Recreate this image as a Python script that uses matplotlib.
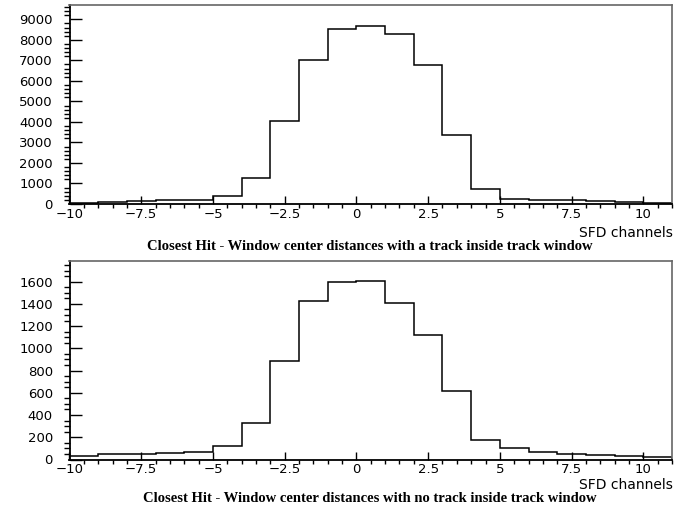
import numpy as np
import matplotlib
matplotlib.use("Agg")
import matplotlib.pyplot as plt
from matplotlib.ticker import MultipleLocator, FuncFormatter

# bin edges in SFD channels (1 channel per bin)
bin_edges = [-10, -9, -8, -7, -6, -5, -4, -3, -2, -1, 0,
             1, 2, 3, 4, 5, 6, 7, 8, 9, 10, 11]

# closest hit distances, events with a track inside the track window
with_track = [60, 96, 130, 178, 210, 390, 1250, 4050, 7040, 8530, 8690,
              8270, 6790, 3340, 730, 256, 207, 175, 125, 93, 60]

# closest hit distances, events with no track inside the track window
no_track = [28, 45, 45, 60, 66, 123, 330, 882, 1425, 1597, 1606,
            1410, 1122, 618, 177, 105, 67, 49, 37, 34, 25]

titles = ["Closest Hit - Window center distances with a track inside track window",
          "Closest Hit - Window center distances with no track inside track window"]
x_title = "SFD channels"

W, H = 674, 508


def fmt_x(v, pos):
    s = "%g" % v
    return s.replace("-", "\u2212")


def draw_hist(ax, counts, ymax, ymajor, yminor, title, y_xtitle, y_title, xpad):
    ax.stairs(counts, bin_edges, color="black", linewidth=1.1)
    ax.set_xlim(-10, 11)
    ax.set_ylim(0, ymax)

    ax.xaxis.set_major_locator(MultipleLocator(2.5))
    ax.xaxis.set_minor_locator(MultipleLocator(0.5))
    ax.xaxis.set_major_formatter(FuncFormatter(fmt_x))
    ax.yaxis.set_major_locator(MultipleLocator(ymajor))
    ax.yaxis.set_minor_locator(MultipleLocator(yminor))

    ax.tick_params(axis="both", direction="in", labelsize=9.5, color="black",
                   top=False, right=False)
    ax.tick_params(axis="x", which="major", length=5.5, width=1, pad=xpad)
    ax.tick_params(axis="x", which="minor", length=3, width=1)
    ax.tick_params(axis="y", which="major", length=8.5, width=1, pad=12)
    ax.tick_params(axis="y", which="minor", length=4.5, width=1)

    for side in ["left", "bottom"]:
        ax.spines[side].set_color("black")
        ax.spines[side].set_linewidth(1.3)
    for side in ["top", "right"]:
        ax.spines[side].set_color("#666666")
        ax.spines[side].set_linewidth(1.2)

    fig.text(673 / W, 1 - y_xtitle / H, x_title, ha="right", va="center",
             fontsize=10)
    fig.text(370 / W, 1 - y_title / H, title, ha="center", va="center",
             fontsize=10.5, fontweight="bold", family="Liberation Serif")


fig = plt.figure(figsize=(W / 100, H / 100), dpi=100)
ax1 = fig.add_axes([69.5 / W, 1 - 204 / H, 602.5 / W, 199 / H])
ax2 = fig.add_axes([69.5 / W, 1 - 459.5 / H, 602.5 / W, 199 / H])

draw_hist(ax1, with_track, 9700, 1000, 200, titles[0], 233, 246, 3)
draw_hist(ax2, no_track, 1790, 200, 50, titles[1], 485, 498, 2.5)

fig.savefig("out.png", dpi=100)
